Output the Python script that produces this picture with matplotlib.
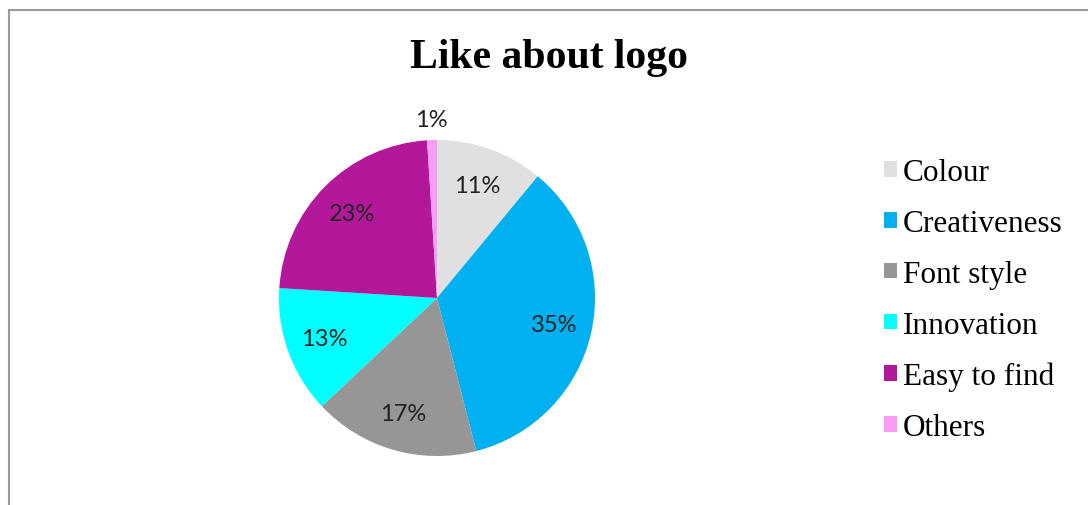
import matplotlib.pyplot as plt
from matplotlib.patches import Rectangle

# data
labels = ['Colour', 'Creativeness', 'Font style', 'Innovation', 'Easy to find', 'Others']
values = [11, 35, 17, 13, 23, 1]
colors = ['#E0E0E0', '#00B0F0', '#969696', '#00FFFF', '#B3189B', '#F99CF5']

W, H = 1088, 506
fig = plt.figure(figsize=(W / 100, H / 100), dpi=100)

# grey chart-area border (top and left visible)
fig.patches.append(Rectangle((9 / W, -0.1), 1.2, (H - 11) / H + 0.1,
                             transform=fig.transFigure, fill=False,
                             edgecolor='#9a9a9a', linewidth=1.5))

# pie axes: centre (437, 299), radius 158 px
cx, cy, r = 437, 299, 158
ax = fig.add_axes([(cx - r) / W, (H - cy - r) / H, 2 * r / W, 2 * r / H])
wedges, texts, autotexts = ax.pie(values, colors=colors, startangle=90, counterclock=False,
                                  autopct='%1.0f%%', pctdistance=0.76,
                                  wedgeprops=dict(linewidth=0),
                                  textprops=dict(family='Lato', fontsize=17, color='#222222'))
ax.set_xlim(-1, 1)
ax.set_ylim(-1, 1)

# small slice label goes outside
for w, t, v in zip(wedges, autotexts, values):
    if v < 3:
        x, y = t.get_position()
        t.set_position((x / 0.76 * 1.13, y / 0.76 * 1.13))

fig.text(549.5 / W, 1 - 58 / H, 'Like about logo', ha='center', va='center',
         family='Liberation Serif', fontweight='bold', fontsize=30)

fig.legend(wedges, labels, loc='upper left', bbox_to_anchor=(884 / W, (H - 159) / H),
           frameon=False, borderpad=0, borderaxespad=0,
           handlelength=0.4, handleheight=0.4, handletextpad=0.2,
           labelspacing=0.7,
           prop=dict(family='Liberation Serif', size=22.5))

fig.savefig('out.png', dpi=100)
